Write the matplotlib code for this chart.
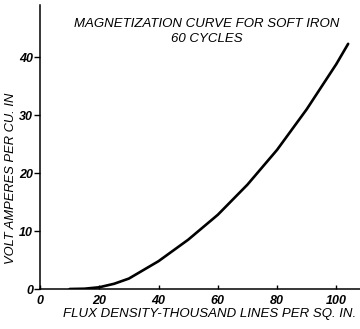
import matplotlib
matplotlib.use("Agg")
import matplotlib.pyplot as plt

flux = [10, 15, 20, 25, 30, 40, 50, 60, 70, 80, 90, 100, 104]
volt_amperes = [0.0, 0.05, 0.3, 0.9, 1.8, 4.8, 8.5, 12.8, 18.0, 24.0, 31.0, 38.8, 42.3]
xticks = [0, 20, 40, 60, 80, 100]
yticks = [0, 10, 20, 30, 40]

fam = "Liberation Sans"

fig = plt.figure(figsize=(3.6, 3.29), dpi=100)
ax = fig.add_axes([40/360, 40/329, 1 - 40/360, (289 - 5)/329])
ax.plot(flux, volt_amperes, color="black", lw=1.9, solid_capstyle="round")
ax.set_xlim(0, 108)
ax.set_ylim(0, 49)
for s in ["top", "right"]:
    ax.spines[s].set_visible(False)
for s in ["left", "bottom"]:
    ax.spines[s].set_linewidth(1.1)
ax.set_xticks(xticks)
ax.set_yticks(yticks)
ax.tick_params(axis="x", direction="in", length=3, width=1, pad=4)
ax.tick_params(axis="y", direction="out", length=4, width=1, pad=1)
for lab in ax.get_xticklabels() + ax.get_yticklabels():
    lab.set_fontfamily(fam)
    lab.set_fontstyle("italic")
    lab.set_fontweight("bold")
    lab.set_fontsize(9)

ax.set_xlabel("FLUX DENSITY-THOUSAND LINES PER SQ. IN.", fontfamily=fam,
              fontstyle="italic", fontsize=9.5)
ax.xaxis.set_label_coords(0.53, -0.068)
ax.set_ylabel("VOLT AMPERES PER CU. IN", fontfamily=fam,
              fontstyle="italic", fontsize=9.3)
ax.yaxis.set_label_coords(-0.072, 0.39)

fig.text(0.575, 0.905, "MAGNETIZATION CURVE FOR SOFT IRON\n60 CYCLES",
         ha="center", va="center", fontfamily=fam, fontstyle="italic",
         fontsize=9.5, linespacing=1.3)

fig.savefig("out.png", dpi=100)
